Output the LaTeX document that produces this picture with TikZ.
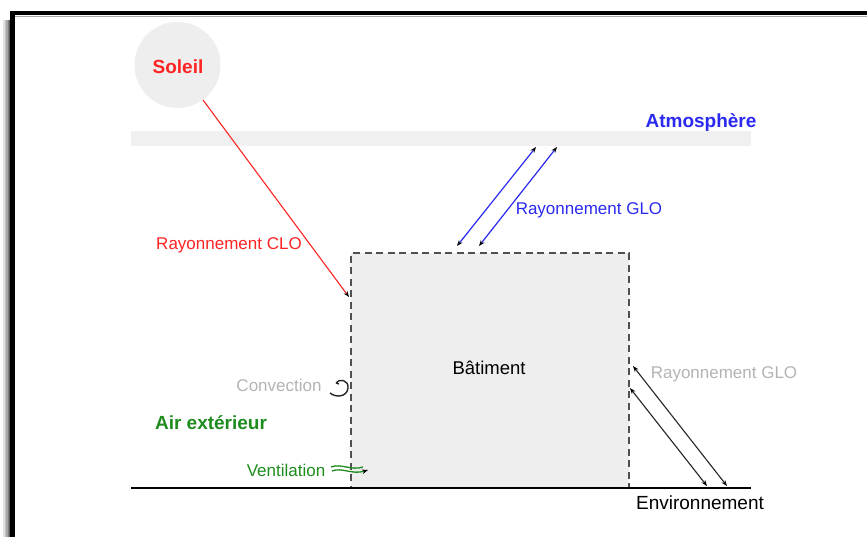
\documentclass[tikz,border=0pt]{standalone}
\usepackage{fontspec}
\setmainfont{Liberation Sans}
\usetikzlibrary{arrows.meta}
\definecolor{sunred}{HTML}{FF2424}
\definecolor{atmblue}{HTML}{2A2AF0}
\definecolor{airgreen}{HTML}{1E8C1E}
\definecolor{lightlab}{HTML}{B4B4B4}
\definecolor{bgfill}{HTML}{EEEEEE}
\definecolor{bandfill}{HTML}{F0F0F0}
\definecolor{edgegray}{HTML}{505050}
\begin{document}
\begin{tikzpicture}[x=1pt,y=-1pt,
  lab/.style={font=\fontsize{17}{19}\selectfont, inner sep=0pt},
  boldlab/.style={font=\fontsize{19}{21}\selectfont\bfseries, inner sep=0pt},
  onetip/.style={-{Stealth[length=6pt,width=4.5pt,black]}},
  twotips/.style={{Stealth[length=6pt,width=4.5pt,black]}-{Stealth[length=6pt,width=4.5pt,black]}}]
\useasboundingbox (0,0) rectangle (867,536);
\clip (0,0) rectangle (867,536);
\fill[white] (0,0) rectangle (867,536);
% shadow of frame
\foreach \x/\s in {4/12,5.5/22,7/35,8.5/50,10/65}{
  \draw[black!\s, line width=1.6pt] (\x,20) -- (\x,540);
}
\draw[black!35, line width=1.2pt] (15,16.5) -- (870,16.5);
% frame
\draw[line width=4.6pt] (12.5,13) rectangle (900,600);

% atmosphere band
\fill[bandfill] (131,131) rectangle (751,146);
\node[boldlab, text=atmblue] (atm) at (701,123) {Atmosphère};

% sun
\node[circle, fill=bgfill, minimum size=86pt, inner sep=0pt] (sun) at (177.5,65) {};
\node[boldlab, text=sunred] (soleil) at (178,67) {Soleil};

% building
\node[draw=edgegray, dashed, dash pattern=on 7pt off 4.5pt, line width=1.4pt, fill=bgfill,
      minimum width=278pt, minimum height=235pt, inner sep=0pt] (bat) at (490,370.5) {};
\node[font=\fontsize{18.5}{20}\selectfont] (battxt) at (489,368) {Bâtiment};

% ground
\coordinate (gl) at (131,488);
\coordinate (gr) at (751,488);
\draw[line width=1.6pt] (gl) -- (gr);
\node[font=\fontsize{19}{21}\selectfont, inner sep=0pt] (env) at (700,503) {Environnement};

% solar radiation
\coordinate (s1) at (203,100);
\coordinate (s2) at (349,297);
\draw[sunred, line width=1.1pt, onetip] (s1) -- (s2);
\node[lab, text=sunred] (clo) at (229,245) {Rayonnement CLO};

% atmosphere GLO
\coordinate (a1t) at (536,147);
\coordinate (a1b) at (457,246);
\coordinate (a2t) at (557,147);
\coordinate (a2b) at (479,246);
\draw[atmblue, line width=1.2pt, twotips] (a1t) -- (a1b);
\draw[atmblue, line width=1.2pt, twotips] (a2t) -- (a2b);
\node[lab, text=atmblue] (gloa) at (589,210) {Rayonnement GLO};

% environment GLO
\coordinate (e1t) at (633,366);
\coordinate (e1b) at (727,486);
\coordinate (e2t) at (630,388);
\coordinate (e2b) at (707,486);
\draw[black!85, line width=1.1pt, twotips] (e1t) -- (e1b);
\draw[black!85, line width=1.1pt, twotips] (e2t) -- (e2b);
\node[lab, text=lightlab] (gloe) at (724,374) {Rayonnement GLO};

% convection
\node[lab, text=lightlab] (conv) at (279,385) {Convection};
\coordinate (cv) at (341,388);
\draw[black!85, line width=1.4pt] ([shift={(-5,-5)}]cv) .. controls ([shift={(-2,-10)}]cv) and ([shift={(8,-8)}]cv) .. ([shift={(7,0)}]cv)
   .. controls ([shift={(6,9)}]cv) and ([shift={(-5,10)}]cv) .. ([shift={(-11,5)}]cv);
\draw[black!85, line width=1.4pt] ([shift={(-5,-5)}]cv) -- ([shift={(-2,-4)}]cv);

% air
\node[boldlab, text=airgreen] (air) at (211,423) {Air extérieur};

% ventilation
\node[lab, text=airgreen] (vent) at (286,470) {Ventilation};
\coordinate (v1) at (331,467);
\coordinate (v2) at (368,470);
\draw[airgreen, line width=1.3pt] (v1) .. controls (341,463) and (351,471) .. (363,467);
\draw[airgreen, line width=1.3pt, onetip] (332,471) .. controls (342,467) and (352,475) .. (v2);
\end{tikzpicture}
\end{document}
